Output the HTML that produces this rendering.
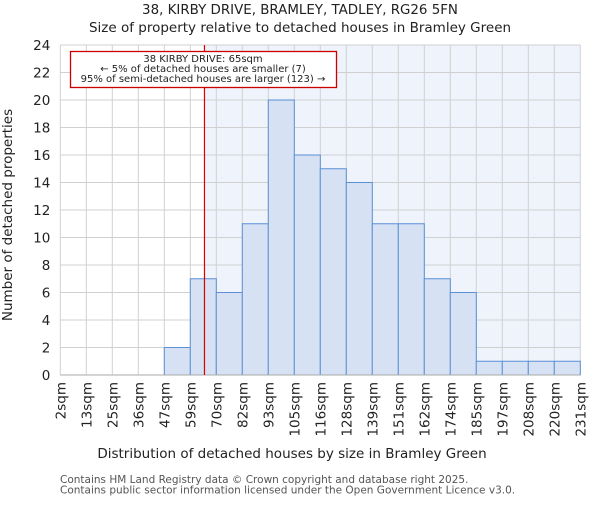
<!DOCTYPE html>
<html><head><meta charset="utf-8"><style>body{margin:0;background:#fff}text{font-family:"DejaVu Sans","Liberation Sans",sans-serif;fill:#222}</style></head>
<body>
<svg id="chart" width="600" height="500" xmlns="http://www.w3.org/2000/svg">
<text x="300" y="14" text-anchor="middle" font-size="13.4">38, KIRBY DRIVE, BRAMLEY, TADLEY, RG26 5FN</text>
<text x="300" y="32" text-anchor="middle" font-size="13.5">Size of property relative to detached houses in Bramley Green</text>
<g id="plot"></g>
<text x="292" y="458" text-anchor="middle" font-size="13.5">Distribution of detached houses by size in Bramley Green</text>
<text transform="translate(12,215) rotate(-90)" text-anchor="middle" font-size="13.5">Number of detached properties</text>
<text x="60" y="483" font-size="10.5" style="fill:#555">Contains HM Land Registry data © Crown copyright and database right 2025.</text>
<text x="60" y="493.5" font-size="10.5" style="fill:#555">Contains public sector information licensed under the Open Government Licence v3.0.</text>
</svg>
<script>
const binLabels=["2sqm","13sqm","25sqm","36sqm","47sqm","59sqm","70sqm","82sqm","93sqm","105sqm","116sqm","128sqm","139sqm","151sqm","162sqm","174sqm","185sqm","197sqm","208sqm","220sqm","231sqm"];
const counts=[0,0,0,0,2,7,6,11,20,16,15,14,11,11,7,6,1,1,1,1];
const yTicks=[0,2,4,6,8,10,12,14,16,18,20,22,24];
const markerIndex=5.545;
const NS="http://www.w3.org/2000/svg";
const L=60.3,R=580.3,T=45,B=375,yMax=24;
const bw=(R-L)/counts.length;
const xs=i=>L+i*bw, ys=v=>B-(v/yMax)*(B-T);
const g=document.getElementById('plot');
function mk(t,a){const e=document.createElementNS(NS,t);for(const k in a)e.setAttribute(k,a[k]);g.appendChild(e);return e;}
let e=mk('rect',{x:xs(markerIndex),y:T,width:R-xs(markerIndex),height:B-T,fill:'#eef3fc'});


yTicks.forEach(v=>{let l=mk('line',{x1:L,x2:R,y1:ys(v),y2:ys(v),stroke:'#d0d0d0'});


let t=mk('text',{x:L-10,y:ys(v)+5,'text-anchor':'end','font-size':13.5});t.textContent=v;

});
binLabels.forEach((s,i)=>{let l=mk('line',{x1:xs(i),x2:xs(i),y1:T,y2:B,stroke:'#d0d0d0'});


let t=mk('text',{transform:`translate(${xs(i)+5},382) rotate(-90)`,'text-anchor':'end','font-size':13.5});t.textContent=s;

});
counts.forEach((c,i)=>{if(!c)return;let r=mk('rect',{x:xs(i),y:ys(c),width:bw,height:B-ys(c),fill:'#d6e1f3',stroke:'#5b8fd6','stroke-width':1});

});
let ax=mk('line',{x1:L,x2:R,y1:B,y2:B,stroke:'#aaa'});


let m=mk('line',{x1:xs(markerIndex),x2:xs(markerIndex),y1:T,y2:B,stroke:'#d00',"stroke-width":1.2});


let box=mk('rect',{x:70.5,y:51.5,width:266,height:36,fill:'#fff',stroke:'#c00','stroke-width':1.3});


["38 KIRBY DRIVE: 65sqm","← 5% of detached houses are smaller (7)","95% of semi-detached houses are larger (123) →"].forEach((s,i)=>{let t=mk('text',{x:203,y:62+i*10,'text-anchor':'middle','font-size':10});t.textContent=s;

});
</script>
</body></html>
